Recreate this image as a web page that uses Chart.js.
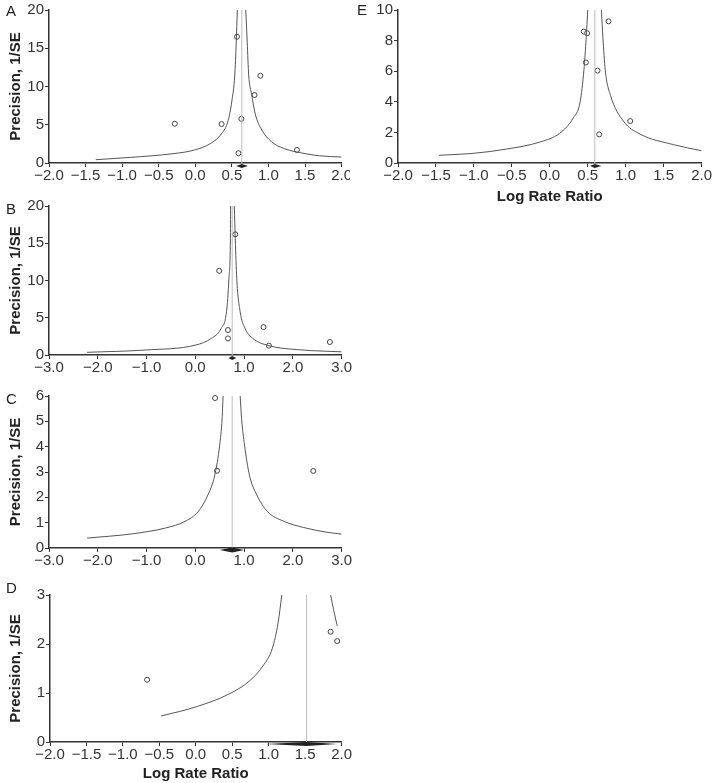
<!DOCTYPE html>
<html>
<head>
<meta charset="utf-8">
<script src="https://cdn.jsdelivr.net/npm/chart.js@4.4.0/dist/chart.umd.min.js"></script>
<style>
  body { margin: 0; background: #fff; width: 712px; height: 783px; position: relative; overflow: hidden; font-family: "Liberation Sans", Arial, sans-serif; }
  .panel { position: absolute; }
  .tag { position: absolute; font-size: 15px; line-height: 1; color: #222; }
</style>
</head>
<body>
<div class="panel" style="left:0;top:0;width:352px;height:195px"><canvas id="chartA"></canvas></div>
<div class="panel" style="left:0;top:190px;width:352px;height:195px"><canvas id="chartB"></canvas></div>
<div class="panel" style="left:0;top:385px;width:352px;height:200px"><canvas id="chartC"></canvas></div>
<div class="panel" style="left:0;top:585px;width:352px;height:198px"><canvas id="chartD"></canvas></div>
<div class="panel" style="left:350px;top:0;width:362px;height:206px;background:#fff"><canvas id="chartE"></canvas></div>
<div class="tag" style="left:6px;top:3px">A</div>
<div class="tag" style="left:6px;top:201px">B</div>
<div class="tag" style="left:6px;top:391px">C</div>
<div class="tag" style="left:6px;top:580px">D</div>
<div class="tag" style="left:357px;top:2px">E</div>
<script>
// A
const studyXA = [-0.28, 0.36, 0.57, 0.63, 0.59, 0.81, 0.89, 1.39];
const studyYA = [5.13, 5.09, 16.5, 5.77, 1.28, 8.89, 11.4, 1.71];
const leftXA = [-1.36, -0.89, -0.32, -0.01, 0.21, 0.36, 0.45, 0.50, 0.54, 0.56, 0.575];
const leftYA = [0.43, 0.73, 1.2, 1.7, 2.56, 3.85, 5.56, 8.1, 11.5, 15.8, 20];
const rightXA = [0.69, 0.71, 0.73, 0.77, 0.82, 0.91, 1.04, 1.21, 1.52, 1.70, 2.0];
const rightYA = [20, 15.8, 11.5, 9.0, 6.4, 4.3, 2.8, 1.9, 1.2, 0.94, 0.78];
const pooledA = [0.56, 0.636, 0.72];
const xTicksA = [-2, -1.5, -1, -0.5, 0, 0.5, 1, 1.5, 2];
const yTicksA = [0, 5, 10, 15, 20];

// B
const studyXB = [0.49, 0.82, 0.67, 0.67, 1.40, 1.51, 2.76];
const studyYB = [11.3, 16.2, 3.35, 2.23, 3.75, 1.25, 1.74];
const leftXB = [-2.22, -1.02, 0.01, 0.33, 0.53, 0.64, 0.69, 0.72, 0.725];
const leftYB = [0.36, 0.67, 1.34, 2.23, 3.57, 5.8, 10.3, 15.6, 20];
const rightXB = [0.80, 0.82, 0.85, 0.92, 1.02, 1.18, 1.51, 2.09, 2.70, 3.0];
const rightYB = [20, 15.6, 10.3, 5.8, 3.57, 2.23, 1.25, 0.72, 0.5, 0.43];
const pooledB = [0.68, 0.757, 0.84];
const xTicksB = [-3, -2, -1, 0, 1, 2, 3];
const yTicksB = [0, 5, 10, 15, 20];

// C
const studyXC = [0.405, 0.446, 2.42];
const studyYC = [5.92, 3.05, 3.04];
const leftXC = [-2.22, -1.29, -0.61, -0.21, 0.06, 0.26, 0.40, 0.50, 0.55, 0.57];
const leftYC = [0.39, 0.56, 0.79, 1.05, 1.44, 2.1, 2.88, 4.06, 5.1, 6.0];
const rightXC = [0.92, 0.95, 1.01, 1.11, 1.26, 1.48, 1.82, 2.22, 2.70, 3.0];
const rightYC = [6, 5.1, 4.06, 2.88, 2.1, 1.44, 1.05, 0.81, 0.62, 0.55];
const pooledC = [0.5, 0.757, 1.0];
const xTicksC = [-3, -2, -1, 0, 1, 2, 3];
const yTicksC = [0, 1, 2, 3, 4, 5, 6];

// D
const studyXD = [-0.668, 1.85, 1.94];
const studyYD = [1.27, 2.25, 2.06];
const leftXD = [-0.475, 0.02, 0.47, 0.74, 0.92, 1.05, 1.13, 1.18];
const leftYD = [0.53, 0.725, 0.99, 1.25, 1.55, 1.91, 2.44, 3.0];
const rightXD = [1.85, 1.89, 1.94];
const rightYD = [3.0, 2.7, 2.37];
const pooledD = [0.96, 1.52, 1.94];
const xTicksD = [-2, -1.5, -1, -0.5, 0, 0.5, 1, 1.5, 2];
const yTicksD = [0, 1, 2, 3];

// E
const studyXE = [0.448, 0.492, 0.475, 0.774, 0.629, 0.651, 1.06];
const studyYE = [8.59, 8.48, 6.57, 9.26, 6.04, 1.87, 2.74];
const leftXE = [-1.46, -1.01, -0.57, -0.13, 0.13, 0.31, 0.40, 0.45, 0.48, 0.50];
const leftYE = [0.505, 0.63, 0.91, 1.37, 1.94, 2.95, 4.0, 6.1, 8.2, 10];
const rightXE = [0.68, 0.70, 0.73, 0.80, 0.97, 1.19, 1.63, 2.0];
const rightYE = [10, 8.2, 6.1, 4.42, 2.74, 1.89, 1.2, 0.8];
const pooledE = [0.53, 0.593, 0.68];
const xTicksE = [-2, -1.5, -1, -0.5, 0, 0.5, 1, 1.5, 2];
const yTicksE = [0, 2, 4, 6, 8, 10];

Chart.defaults.font.family = '"Liberation Sans", Arial, sans-serif';
Chart.defaults.color = '#333';

function xy(xs, ys) {
  return xs.map(function (x, i) { return { x: x, y: ys[i] }; });
}

function fmtX(v) {
  return (v < 0 ? '\u2212' : '') + Math.abs(v).toFixed(1);
}

// pooled estimate diamond, drawn just under the x axis
const diamondPlugin = {
  id: 'diamond',
  afterDatasetsDraw(chart, args, opts) {
    if (!opts.v) return;
    const ctx = chart.ctx;
    const sx = chart.scales.x;
    const y = chart.chartArea.bottom + opts.dy;
    ctx.save();
    ctx.beginPath();
    ctx.moveTo(sx.getPixelForValue(opts.v[0]), y);
    ctx.lineTo(sx.getPixelForValue(opts.v[1]), y - opts.h);
    ctx.lineTo(sx.getPixelForValue(opts.v[2]), y);
    ctx.lineTo(sx.getPixelForValue(opts.v[1]), y + opts.h);
    ctx.closePath();
    ctx.fillStyle = '#222';
    ctx.fill();
    ctx.restore();
  }
};

function funnel(id, p) {
  const yMax = p.yTicks[p.yTicks.length - 1];
  const curve = { showLine: true, borderColor: '#555', borderWidth: 1, pointRadius: 0, cubicInterpolationMode: 'monotone' };
  return new Chart(document.getElementById(id), {
    type: 'scatter',
    data: {
      datasets: [
        { data: [{ x: p.pooled[1], y: 0 }, { x: p.pooled[1], y: yMax }], showLine: true, borderColor: '#bdbdbd', borderWidth: 1, pointRadius: 0 },
        Object.assign({ data: xy(p.leftX, p.leftY) }, curve),
        Object.assign({ data: xy(p.rightX, p.rightY) }, curve),
        { data: xy(p.studyX, p.studyY), pointRadius: 2.5, pointBorderWidth: 1, pointBorderColor: '#444', pointBackgroundColor: '#fff', clip: false }
      ]
    },
    options: {
      responsive: true,
      maintainAspectRatio: false,
      animation: false,
      layout: { autoPadding: false, padding: p.pad },
      plugins: { legend: { display: false }, tooltip: { enabled: false }, diamond: { v: p.pooled, dy: p.dy, h: p.dh } },
      scales: {
        x: {
          type: 'linear',
          min: p.xTicks[0],
          max: p.xTicks[p.xTicks.length - 1],
          afterBuildTicks: function (s) { s.ticks = p.xTicks.map(function (v) { return { value: v }; }); },
          afterFit: function (s) { s.height = p.xh; },
          ticks: { font: { size: 15 }, color: '#333', padding: 0, maxRotation: 0, autoSkip: false, callback: fmtX },
          grid: { drawOnChartArea: false, drawTicks: true, tickLength: 4, color: '#333' },
          border: { color: '#333', width: 1.5 },
          title: { display: !!p.xTitle, text: p.xTitle, font: { size: 15, weight: 'bold' }, color: '#222', padding: { top: 0, bottom: 0 } }
        },
        y: {
          min: 0,
          max: yMax,
          afterBuildTicks: function (s) { s.ticks = p.yTicks.map(function (v) { return { value: v }; }); },
          afterFit: function (s) { s.width = p.yw; },
          ticks: { font: { size: 15 }, color: '#333', padding: 1 },
          grid: { drawOnChartArea: false, drawTicks: true, tickLength: 4, color: '#333' },
          border: { color: '#333', width: 1.5 },
          title: { display: !!p.yTitle, text: p.yTitle, font: { size: 15, weight: 'bold' }, color: '#222', padding: { top: 7, bottom: 0 } }
        }
      }
    },
    plugins: [diamondPlugin]
  });
}

funnel('chartA', { studyX: studyXA, studyY: studyYA, leftX: leftXA, leftY: leftYA, rightX: rightXA, rightY: rightYA, pooled: pooledA,
  xTicks: xTicksA, yTicks: yTicksA, pad: { top: 7, right: 0, left: 0, bottom: 0 }, yw: 49, xh: 32, dy: 3, dh: 2, yTitle: 'Precision, 1/SE' });
funnel('chartB', { studyX: studyXB, studyY: studyYB, leftX: leftXB, leftY: leftYB, rightX: rightXB, rightY: rightYB, pooled: pooledB,
  xTicks: xTicksB, yTicks: yTicksB, pad: { top: 16, right: 9, left: 0, bottom: 0 }, yw: 49, xh: 30, dy: 3, dh: 2, yTitle: 'Precision, 1/SE' });
funnel('chartC', { studyX: studyXC, studyY: studyYC, leftX: leftXC, leftY: leftYC, rightX: rightXC, rightY: rightYC, pooled: pooledC,
  xTicks: xTicksC, yTicks: yTicksC, pad: { top: 11, right: 8, left: 0, bottom: 0 }, yw: 49, xh: 37, dy: 2, dh: 2.5, yTitle: 'Precision, 1/SE' });
funnel('chartD', { studyX: studyXD, studyY: studyYD, leftX: leftXD, leftY: leftYD, rightX: rightXD, rightY: rightYD, pooled: pooledD,
  xTicks: xTicksD, yTicks: yTicksD, pad: { top: 5, right: 5, left: 0, bottom: 0 }, yw: 50, xh: 41, dy: 2, dh: 2, yTitle: 'Precision, 1/SE', xTitle: 'Log Rate Ratio' });
funnel('chartE', { studyX: studyXE, studyY: studyYE, leftX: leftXE, leftY: leftYE, rightX: rightXE, rightY: rightYE, pooled: pooledE,
  xTicks: xTicksE, yTicks: yTicksE, pad: { top: 5, right: 10, left: 0, bottom: 0 }, yw: 48, xh: 43, dy: 3, dh: 2, xTitle: 'Log Rate Ratio' });
</script>
</body>
</html>
